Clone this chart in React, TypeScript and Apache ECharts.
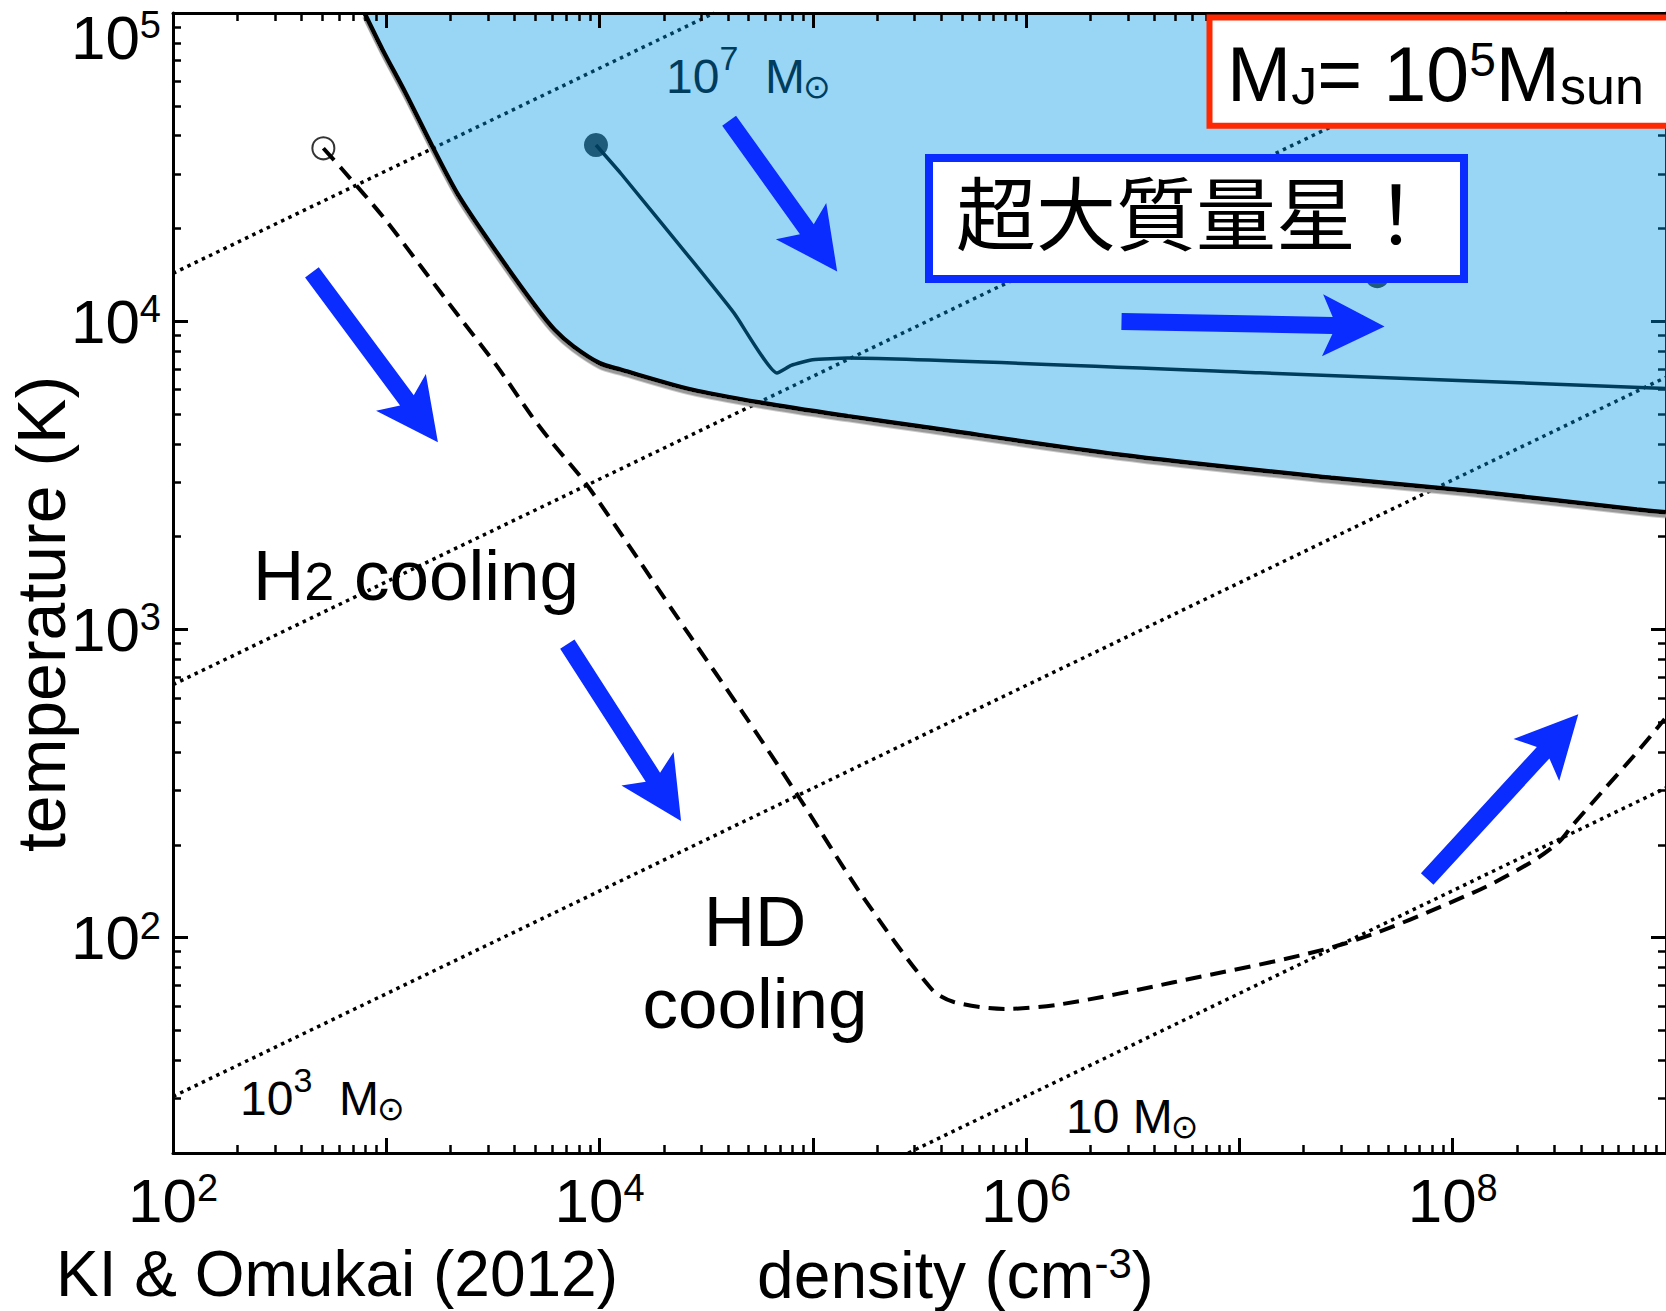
import React, { useEffect, useRef } from "react";
import * as echarts from "echarts";

const FONT = "'Liberation Sans', Arimo, Arial, Helvetica, sans-serif";
const CJK = "'Noto Sans CJK JP', 'Noto Sans CJK SC', sans-serif";
const SYM = "'DejaVu Sans', sans-serif";

// ---- axis ranges and ticks ----
const xRange = [1e2, 1e9];
const yRange = [20, 1e5];
const xDecades = [1e2, 1e3, 1e4, 1e5, 1e6, 1e7, 1e8, 1e9];
const xLabelValues = [1e2, 1e4, 1e6, 1e8];
const yDecades = [1e2, 1e3, 1e4, 1e5];
const yLabelValues = [1e2, 1e3, 1e4, 1e5];
const minorMantissas = [2, 3, 4, 5, 6, 7, 8, 9];
const xMinorBase = [1e2, 1e3, 1e4, 1e5, 1e6, 1e7, 1e8];
const yMinorBase = [10, 1e2, 1e3, 1e4];
const xMinorValues = xMinorBase.flatMap((d) => minorMantissas.map((m) => m * d));
const yMinorValues = yMinorBase
  .flatMap((d) => minorMantissas.map((m) => m * d))
  .filter((v) => v > 20 && v < 1e5);

// ---- boundary of the supermassive-star region (blue area) ----
const boundaryDensity = [790, 961, 1232, 1644, 2194, 3311, 5010, 6153, 7551, 1.0e4, 1.257e4, 2.704e4, 5.82e4, 1.46e5, 3.15e5, 2.7e6, 2.69e7, 1.25e8, 7.3e8, 1e9];
const boundaryTemp = [1e5, 75900, 54900, 36900, 25400, 16640, 11170, 9380, 8280, 7310, 6960, 6000, 5430, 4920, 4560, 3695, 3105, 2808, 2450, 2400];

// ---- HD cooling track (dashed) ----
const hdDensity = [507, 624, 961, 1452, 2188, 3304, 4808, 5834, 8955, 26550, 47100, 8.53e4, 1.7e5, 3.6e5, 4.58e5, 7.94e5, 1.46e6, 4.92e6, 3.07e7, 1.25e8, 2.31e8, 3.14e8, 3.64e8, 4.99e8, 7.3e8, 9.86e8];
const hdTemp = [36400, 31000, 21900, 15070, 10370, 7150, 4920, 4130, 2870, 952, 535, 288, 137, 68.1, 61.8, 58.7, 60.8, 71.6, 95.3, 140, 175, 204, 231, 296, 399, 512];

// ---- supermassive star track (solid, inside blue) ----
const smsDensity = [9620, 12560, 27000, 42800, 67900, 79200, 99800, 1.46e5, 1.25e7, 1e9];
const smsTemp = [37300, 30200, 15800, 10600, 6790, 7190, 7500, 7590, 6800, 6050];
const smsHiddenStart = [4.43e7, 14000];

// ---- Jeans-mass lines (dotted) ----
const jeans7Density = [100, 34500];
const jeans7Temp = [14300, 1e5];
const jeans5Density = [100, 3.44e8];
const jeans5Temp = [662, 1e5];
const jeans3Density = [100, 1e9];
const jeans3Temp = [30.5, 6580];
const jeans1Density = [2.8e5, 1e9];
const jeans1Temp = [20, 306];

// ---- blue arrows (data coordinates) ----
const arrowTails = [[448, 14400], [40500, 44700], [7060, 896], [2.8e6, 9980], [7.59e7, 155]];
const arrowTips = [[1746, 4050], [1.3e5, 14500], [24100, 239], [4.79e7, 9620], [3.88e8, 530]];

const zip = (a: number[], b: number[]) => a.map((v, i) => [v, b[i]]);

const labelRich = {
  b: { fontSize: 62, fontFamily: FONT, color: "#000" },
  s: { fontSize: 38, fontFamily: FONT, color: "#000", verticalAlign: "top" },
  bt: { fontSize: 62, fontFamily: FONT, color: "#000", padding: [48, 0, 0, 0] },
  st: { fontSize: 38, fontFamily: FONT, color: "#000", verticalAlign: "top", padding: [48, 0, 0, 0] },
};
const powLabel = (v: number) => {
  const e = Math.round(Math.log10(v));
  return e === 5 ? `{bt|10}{st|${e}}` : `{b|10}{s|${e}}`;
};

function axis(dim: "x" | "y", position: string, ticks: number[], len: number, w: number, showLine: boolean, labels: number[] | null, z = 0) {
  const r = dim === "x" ? xRange : yRange;
  return {
    type: "log",
    logBase: 10,
    min: r[0],
    max: r[1],
    position,
    z,
    axisLine: { show: showLine, onZero: false, lineStyle: { color: "#000", width: 3 } },
    axisTick: { show: true, inside: true, length: len, lineStyle: { color: "#000", width: w }, customValues: ticks },
    axisLabel: labels
      ? { show: true, customValues: labels, margin: dim === "x" ? 16 : 12, color: "#000", formatter: powLabel, rich: labelRich }
      : { show: false },
    splitLine: { show: false },
    minorTick: { show: false },
    minorSplitLine: { show: false },
  };
}

function arrowPoints(p0: number[], p1: number[]) {
  const shaft = 17, headLen = 62, headHalf = 31, notch = 10;
  const dx = p1[0] - p0[0], dy = p1[1] - p0[1];
  const L = Math.hypot(dx, dy);
  const ux = dx / L, uy = dy / L, vx = -uy, vy = ux, h = shaft / 2;
  const bx = p1[0] - ux * headLen, by = p1[1] - uy * headLen;
  const jx = p1[0] - ux * (headLen - notch), jy = p1[1] - uy * (headLen - notch);
  return [
    [p0[0] + vx * h, p0[1] + vy * h],
    [jx + vx * h, jy + vy * h],
    [bx + vx * headHalf, by + vy * headHalf],
    [p1[0], p1[1]],
    [bx - vx * headHalf, by - vy * headHalf],
    [jx - vx * h, jy - vy * h],
    [p0[0] - vx * h, p0[1] - vy * h],
  ];
}

const msunRich = {
  n: { fontSize: 48, fontFamily: FONT, fill: "#000", padding: [8, 0, 0, 0] },
  sp: { fontSize: 34, fontFamily: FONT, fill: "#000", verticalAlign: "top" },
  m: { fontSize: 48, fontFamily: FONT, fill: "#000", padding: [8, 0, 0, 0], width: 38 },
  o: { fontSize: 33, fontFamily: SYM, fill: "#000", verticalAlign: "top", padding: [29, 0, 0, 0] },
};

function buildOption() {
  const dotted = (d: number[], t: number[]) => ({
    type: "line",
    data: zip(d, t),
    symbol: "none",
    silent: true,
    z: 1,
    lineStyle: { color: "#000", width: 3.5, type: [3.5, 4.5] },
  });
  return {
    animation: false,
    backgroundColor: "#fff",
    textStyle: { fontFamily: FONT },
    grid: { left: 173, top: 13, width: 1496, height: 1140 },
    xAxis: [
      axis("x", "bottom", xDecades, 15, 3, true, xLabelValues),
      axis("x", "bottom", xMinorValues, 8, 2.5, false, null),
      axis("x", "top", xDecades, 15, 3, true, null, 6),
      axis("x", "top", xMinorValues, 8, 2.5, false, null, 6),
    ],
    yAxis: [
      axis("y", "left", yDecades, 15, 3, true, yLabelValues),
      axis("y", "left", yMinorValues, 8, 2.5, false, null),
      axis("y", "right", yDecades, 15, 3, true, null),
      axis("y", "right", yMinorValues, 8, 2.5, false, null),
    ],
    series: [
      dotted(jeans7Density, jeans7Temp),
      dotted(jeans5Density, jeans5Temp),
      dotted(jeans3Density, jeans3Temp),
      dotted(jeans1Density, jeans1Temp),
      {
        type: "line",
        data: zip(smsDensity, smsTemp),
        symbol: "none",
        smooth: 0.15,
        z: 1,
        lineStyle: { color: "#000", width: 3.5 },
      },
      {
        type: "scatter",
        data: [[smsDensity[0], smsTemp[0]], smsHiddenStart],
        symbolSize: 24,
        itemStyle: { color: "#000" },
        z: 1,
      },
      {
        type: "line",
        data: zip(boundaryDensity, boundaryTemp),
        symbol: "none",
        smooth: 0.3,
        z: 3,
        lineStyle: { color: "#000", width: 4.5, shadowColor: "#999999", shadowOffsetY: 3.5, shadowBlur: 0 },
        areaStyle: { color: "rgba(0,150,230,0.4)", origin: "end", opacity: 1 },
      },
      {
        type: "scatter",
        data: [[hdDensity[0], hdTemp[0]]],
        symbol: "emptyCircle",
        symbolSize: 22,
        itemStyle: { color: "#000", borderColor: "#000", borderWidth: 4 },
        z: 4,
      },
      {
        type: "line",
        data: zip(hdDensity, hdTemp),
        symbol: "none",
        smooth: 0.3,
        z: 5,
        lineStyle: { color: "#000", width: 4, type: [16, 9] },
      },
    ],
  };
}

function buildGraphics(toPx: (p: number[]) => number[]) {
  const g: any[] = [];
  // Jeans-mass labels
  g.push({ type: "text", z: 1, x: 666, y: 41, style: { text: "{n|10}{sp|7}{n|  }{m|M}{o|⊙}", rich: msunRich, fill: "#000", verticalAlign: "top" } });
  g.push({ type: "text", z: 10, x: 240, y: 1063, style: { text: "{n|10}{sp|3}{n|  }{m|M}{o|⊙}", rich: msunRich, fill: "#000", verticalAlign: "top" } });
  g.push({ type: "text", z: 10, x: 1066, y: 1081, style: { text: "{n|10 }{m|M}{o|⊙}", rich: msunRich, fill: "#000", verticalAlign: "top" } });
  // region labels
  g.push({
    type: "text", z: 10, x: 253, y: 540,
    style: {
      text: "{a|H}{s|2}{a| cooling}", fill: "#000", verticalAlign: "top",
      rich: { a: { fontSize: 71, fontFamily: FONT, fill: "#000" }, s: { fontSize: 54, fontFamily: FONT, fill: "#000", verticalAlign: "bottom", height: 61 } },
    },
  });
  g.push({ type: "text", z: 10, x: 755, y: 880, style: { text: "HD\ncooling", fontSize: 71, fontFamily: FONT, fill: "#000", align: "center", verticalAlign: "top", lineHeight: 82 } });
  // axis titles / source
  g.push({ type: "text", z: 10, x: 41, y: 614, rotation: Math.PI / 2, style: { text: "temperature (K)", fontSize: 68, fontFamily: FONT, fill: "#000", align: "center", verticalAlign: "middle" } });
  g.push({ type: "text", z: 10, x: 56, y: 1242, style: { text: "KI & Omukai (2012)", fontSize: 64, fontFamily: FONT, fill: "#000", verticalAlign: "top" } });
  g.push({
    type: "text", z: 10, x: 757, y: 1242,
    style: {
      text: "{a|density (cm}{s|-3}{a|)}", fill: "#000", verticalAlign: "top",
      rich: { a: { fontSize: 66, fontFamily: FONT, fill: "#000" }, s: { fontSize: 42, fontFamily: FONT, fill: "#000", verticalAlign: "top" } },
    },
  });
  // arrows
  arrowTails.forEach((t, i) => {
    g.push({ type: "polygon", z: 10, shape: { points: arrowPoints(toPx(t), toPx(arrowTips[i])) }, style: { fill: "#0a2cff" } });
  });
  // blue box
  g.push({ type: "rect", z: 9, shape: { x: 929, y: 158, width: 535, height: 121 }, style: { fill: "#fff", stroke: "#0a2cff", lineWidth: 8 } });
  g.push({ type: "text", z: 10, x: 956, y: 209, style: { text: "超大質量星！", fontSize: 80, fontFamily: CJK, fill: "#000", verticalAlign: "middle" } });
  // red box
  g.push({ type: "rect", z: 9, shape: { x: 1209.5, y: 17.5, width: 520, height: 108.3 }, style: { fill: "#fff", stroke: "#ff2800", lineWidth: 6 } });
  g.push({
    type: "text", z: 10, x: 1227, y: 35,
    style: {
      text: "{B|M}{sub|J}{B|= 10}{sup|5}{B|M}{sub|sun}", fill: "#000", verticalAlign: "top",
      rich: {
        B: { fontSize: 77, fontFamily: FONT, fill: "#000" },
        sub: { fontSize: 52, fontFamily: FONT, fill: "#000", verticalAlign: "bottom" },
        sup: { fontSize: 48, fontFamily: FONT, fill: "#000", verticalAlign: "top" },
      },
    },
  });
  return g;
}

export default function App() {
  const ref = useRef<HTMLDivElement>(null);
  useEffect(() => {
    document.body.style.margin = "0";
    const chart = echarts.init(ref.current!, null, { renderer: "svg" });
    chart.setOption(buildOption() as any);
    const toPx = (p: number[]) => chart.convertToPixel({ xAxisIndex: 0, yAxisIndex: 0 } as any, p) as number[];
    chart.setOption({ graphic: buildGraphics(toPx) } as any);
    return () => chart.dispose();
  }, []);
  return <div ref={ref} style={{ position: "absolute", left: 0, top: 0, width: 1666, height: 1311 }} />;
}
